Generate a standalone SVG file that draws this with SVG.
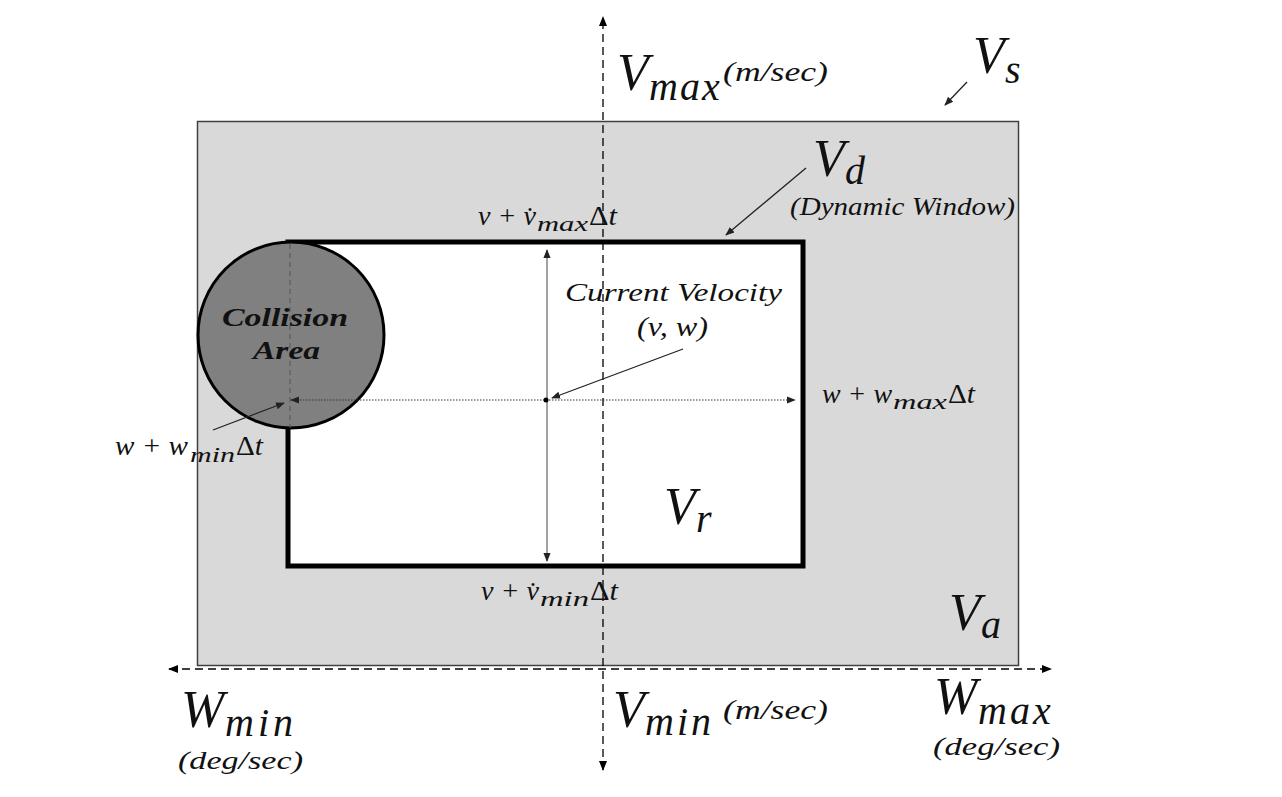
<svg xmlns="http://www.w3.org/2000/svg" width="1282" height="797" viewBox="0 0 1282 797">
<defs>
<marker id="ah" viewBox="0 0 10 10" refX="9" refY="5" markerWidth="10" markerHeight="10" markerUnits="userSpaceOnUse" orient="auto-start-reverse"><path d="M0,1 L10,5 L0,9 z" fill="#000"/></marker>
<marker id="ahs" viewBox="0 0 10 10" refX="9" refY="5" markerWidth="9" markerHeight="9" markerUnits="userSpaceOnUse" orient="auto-start-reverse"><path d="M0,1 L10,5 L0,9 z" fill="#222"/></marker>
<style>
.m{font-family:"Liberation Serif","DejaVu Serif",serif;font-style:italic;fill:#111}
.up{font-style:normal}
.big{font-size:52px}
.sub{font-size:40px}
.unit{font-size:27px}
.mid{font-size:27px}
.ms{font-size:21px}
.axis{stroke:#000;stroke-width:1.3;stroke-dasharray:8 5;fill:none}
.thin{stroke:#444;stroke-width:1;fill:none}
.ptr{stroke:#222;stroke-width:1.3;fill:none}
</style>
</defs>
<rect width="1282" height="797" fill="#fff"/>
<g id="Va">
<rect x="197.5" y="121.5" width="821" height="544" fill="#d9d9d9" stroke="#404040" stroke-width="1.5"/>
</g>
<g id="Vd">
<rect x="288" y="242" width="515" height="324" fill="#fff" stroke="#000" stroke-width="5"/>
</g>
<g id="collision">
<circle cx="291" cy="335" r="93" fill="#808080" stroke="#000" stroke-width="3"/>
<line x1="290" y1="244" x2="290" y2="428" stroke="#555" stroke-width="1" stroke-dasharray="5 4"/>
<text class="m" x="222" y="326" font-size="26" font-weight="bold" textLength="126" lengthAdjust="spacingAndGlyphs">Collision</text>
<text class="m" x="253" y="359" font-size="26" font-weight="bold" textLength="67" lengthAdjust="spacingAndGlyphs">Area</text>
</g>
<g id="connectors">
<line class="axis" x1="603" y1="770" x2="603" y2="17" marker-end="url(#ah)" marker-start="url(#ah)"/>
<line class="axis" x1="169" y1="669" x2="1051" y2="669" marker-end="url(#ah)" marker-start="url(#ah)"/>
<line class="thin" x1="547" y1="250" x2="547" y2="561" marker-end="url(#ahs)" marker-start="url(#ahs)"/>
<line x1="291" y1="400" x2="795" y2="400" stroke="#333" stroke-width="1" stroke-dasharray="1.5 1.5" marker-end="url(#ahs)" marker-start="url(#ahs)"/>
<circle cx="546" cy="400" r="2.5" fill="#000"/>
<line class="ptr" x1="683" y1="349" x2="552" y2="398" marker-end="url(#ahs)"/>
<line class="ptr" x1="213" y1="430" x2="284" y2="403" marker-end="url(#ahs)"/>
<line class="ptr" x1="967" y1="82" x2="945" y2="105" marker-end="url(#ahs)"/>
<line class="ptr" x1="806" y1="168" x2="726" y2="235" marker-end="url(#ahs)"/>
</g>
<g id="labels">
<text class="m big" x="617" y="90">V<tspan class="sub" x="649" y="100" letter-spacing="2">max</tspan></text>
<text class="m unit" x="723" y="81" textLength="105" lengthAdjust="spacingAndGlyphs">(m/sec)</text>

<text class="m big" x="973" y="73">V<tspan class="sub" x="1005" y="83">s</tspan></text>

<text class="m big" x="813" y="176">V<tspan class="sub" x="845" y="184">d</tspan></text>
<text class="m" x="790" y="215" font-size="25" textLength="225" lengthAdjust="spacingAndGlyphs">(Dynamic Window)</text>

<text class="m mid" x="478" y="225" textLength="58" lengthAdjust="spacingAndGlyphs">v + v&#775;</text>
<text class="m ms" x="537" y="231" textLength="51" lengthAdjust="spacingAndGlyphs">max</text>
<text class="m mid" x="589" y="225" textLength="28" lengthAdjust="spacingAndGlyphs"><tspan class="up">Δ</tspan>t</text>

<text class="m" x="565" y="301" font-size="26" textLength="217" lengthAdjust="spacingAndGlyphs">Current Velocity</text>
<text class="m mid" x="637" y="336" textLength="71" lengthAdjust="spacingAndGlyphs">(v, w)</text>

<text class="m mid" x="822" y="403" textLength="70" lengthAdjust="spacingAndGlyphs">w + w</text>
<text class="m ms" x="893" y="409" textLength="54" lengthAdjust="spacingAndGlyphs">max</text>
<text class="m mid" x="948" y="403" textLength="27" lengthAdjust="spacingAndGlyphs"><tspan class="up">Δ</tspan>t</text>

<text class="m mid" x="115" y="455" textLength="73" lengthAdjust="spacingAndGlyphs">w + w</text>
<text class="m ms" x="190" y="462" textLength="45" lengthAdjust="spacingAndGlyphs">min</text>
<text class="m mid" x="236" y="455" textLength="27" lengthAdjust="spacingAndGlyphs"><tspan class="up">Δ</tspan>t</text>

<text class="m big" x="664" y="524">V<tspan class="sub" x="696" y="532">r</tspan></text>

<text class="m mid" x="481" y="600" textLength="58" lengthAdjust="spacingAndGlyphs">v + v&#775;</text>
<text class="m ms" x="540" y="606" textLength="49" lengthAdjust="spacingAndGlyphs">min</text>
<text class="m mid" x="590" y="600" textLength="28" lengthAdjust="spacingAndGlyphs"><tspan class="up">Δ</tspan>t</text>

<text class="m big" x="949" y="630">V<tspan class="sub" x="981" y="638">a</tspan></text>

<text class="m big" x="181" y="727">W<tspan class="sub" x="225" y="736" letter-spacing="4">min</tspan></text>
<text class="m" x="178" y="769" font-size="25" textLength="125" lengthAdjust="spacingAndGlyphs">(deg/sec)</text>

<text class="m big" x="613" y="727">V<tspan class="sub" x="645" y="735" letter-spacing="3">min</tspan></text>
<text class="m unit" x="723" y="719" textLength="105" lengthAdjust="spacingAndGlyphs">(m/sec)</text>

<text class="m big" x="934" y="714">W<tspan class="sub" x="978" y="724" letter-spacing="3">max</tspan></text>
<text class="m" x="933" y="755" font-size="25" textLength="127" lengthAdjust="spacingAndGlyphs">(deg/sec)</text>
</g>
</svg>
